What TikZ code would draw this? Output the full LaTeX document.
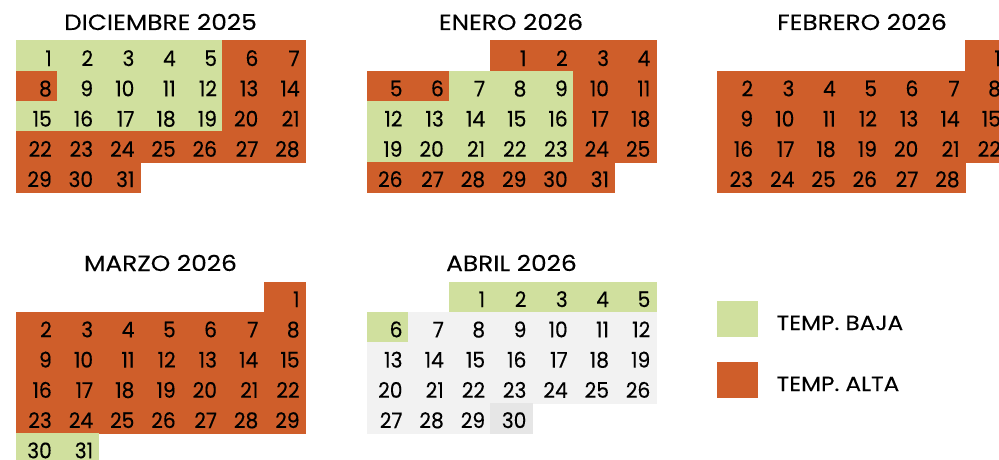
\documentclass[tikz,border=0pt]{standalone}
\usepackage{fontspec}
\setmainfont{Poppins}
\newfontfamily\capsfont[FakeStretch=1.13,FakeBold=0.15]{Poppins}
\newfontfamily\numfont[FakeStretch=0.94,FakeBold=0.3]{Poppins}
\definecolor{cg}{RGB}{208,224,158}
\definecolor{co}{RGB}{207,94,42}
\definecolor{cl}{RGB}{242,242,242}
\definecolor{cd}{RGB}{230,230,230}
\tikzset{
  daynum/.style={inner sep=0pt, anchor=base east, font=\numfont\fontsize{21.5}{21.5}\selectfont},
  title/.style={inner sep=0pt, anchor=base, font=\capsfont\fontsize{22}{22}\selectfont},
  legtext/.style={inner sep=0pt, anchor=base west, font=\capsfont\fontsize{20.5}{20.5}\selectfont},
}
\newcommand\cw{41.3}
\newcommand\ch{30.25}
% #1 name, #2 x0, #3 y0, #4 start col, #5 ndays, #6 codes
\newcommand\calmonth[6]{%
  \foreach \d [count=\i from 0] in {1,...,#5}{%
    \pgfmathtruncatemacro\idx{\i+#4}%
    \pgfmathtruncatemacro\col{mod(\idx,7)}%
    \pgfmathtruncatemacro\row{div(\idx,7)}%
    \pgfmathtruncatemacro\code{{#6}[\i]}%
    \edef\cc{\ifcase\code cg\or co\or cl\or cd\fi}%
    \fill[\cc, draw=\cc, line width=0.4pt] ({#2+\col*\cw},{#3+\row*\ch}) rectangle ++(\cw,\ch);
    \node[daynum] (#1-\d) at ({#2+(\col+1)*\cw-5.3},{#3+(\row+1)*\ch-4.9}) {\d};
  }%
}
\begin{document}
\begin{tikzpicture}[x=1pt,y=-1pt]
\useasboundingbox (0,0) rectangle (999,460);
\clip (0,0) rectangle (999,460);
% titles
\node[title] (tdec) at (160.5,30) {DICIEMBRE 2025};
\node[title] (tjan) at (511,30) {ENERO 2026};
\node[title] (tfeb) at (862,30) {FEBRERO 2026};
\node[title] (tmar) at (160.5,271) {MARZO 2026};
\node[title] (tapr) at (511.5,271) {ABRIL 2026};
% months
\calmonth{dec}{16}{40.7}{0}{31}{0,0,0,0,0,1,1,1,0,0,0,0,1,1,0,0,0,0,0,1,1,1,1,1,1,1,1,1,1,1,1}
\calmonth{jan}{366.7}{40.7}{3}{31}{1,1,1,1,1,1,0,0,0,1,1,0,0,0,0,0,1,1,0,0,0,0,0,1,1,1,1,1,1,1,1}
\calmonth{feb}{717.3}{40.7}{6}{28}{1,1,1,1,1,1,1,1,1,1,1,1,1,1,1,1,1,1,1,1,1,1,1,1,1,1,1,1}
\calmonth{mar}{16}{281.7}{6}{31}{1,1,1,1,1,1,1,1,1,1,1,1,1,1,1,1,1,1,1,1,1,1,1,1,1,1,1,1,1,0,0}
\calmonth{apr}{366.7}{281.7}{2}{30}{0,0,0,0,0,0,2,2,2,2,2,2,2,2,2,2,2,2,2,2,2,2,2,2,2,2,2,2,2,3}
% legend
\fill[cg] (716.7,301) rectangle (758,336.7);
\node[legtext] (lbaja) at (776.5,330) {TEMP. BAJA};
\fill[co] (716.7,362) rectangle (758,397.7);
\node[legtext] (lalta) at (776.5,391) {TEMP. ALTA};
\end{tikzpicture}
\end{document}
